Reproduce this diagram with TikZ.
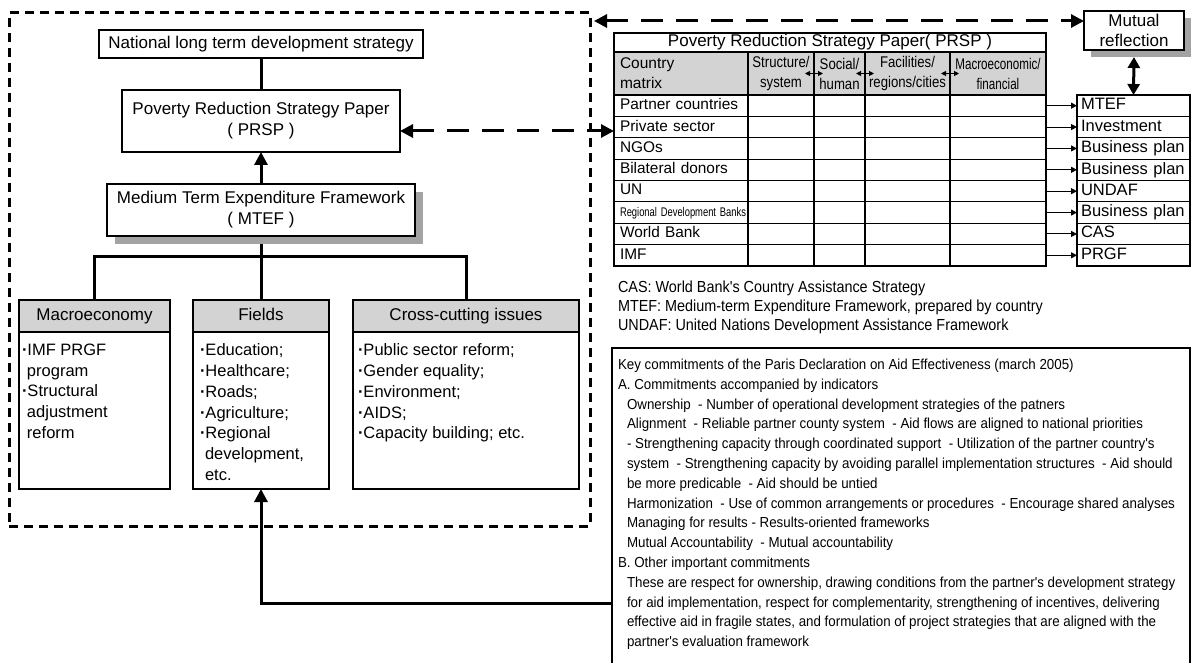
\documentclass[tikz,border=0pt]{standalone}
\usepackage{graphicx}
\usepackage{fontspec}
\setmainfont{Liberation Sans}
\newfontfamily\keyfont[FakeStretch=0.92]{Liberation Sans}
\newfontfamily\notefont[FakeStretch=0.9]{Liberation Sans}
\newfontfamily\colfont[FakeStretch=0.85]{Liberation Sans}
\newfontfamily\macfont[FakeStretch=0.75]{Liberation Sans}
\usetikzlibrary{arrows.meta,calc,shadows}

\definecolor{headfill}{HTML}{D3D3D3}
\definecolor{shadefill}{HTML}{A3A3A3}

\newcommand{\ind}{\hspace*{9pt}}
\newcommand{\cont}{\hspace*{5pt}}
\newcommand{\bul}{{\bfseries ·}}
\newcommand{\hs}{\vphantom{Mgy}}
\newcommand{\rdb}[1]{\scalebox{0.75}[1]{\fontsize{12.5}{14}\selectfont #1}}

\begin{document}
\begin{tikzpicture}[x=1pt,y=-1pt,
  every node/.style={inner sep=0pt, outer sep=0pt},
  box/.style={draw, line width=1.3pt, fill=white, align=center, font=\fontsize{17}{21}\selectfont},
  shaded/.style={drop shadow={shadow xshift=#1, shadow yshift=-#1, fill=shadefill, opacity=1}},
  headbox/.style={box, fill=headfill},
  items/.style={align=left, anchor=north west, font=\fontsize{16.5}{20.7}\selectfont},
  cell/.style={draw, line width=1.2pt, minimum height=21.375pt, anchor=west, font=\fontsize{15.4}{19}\selectfont},
  outcell/.style={cell, font=\fontsize{16.5}{19}\selectfont},
  headcell/.style={draw, line width=1.2pt, fill=headfill, minimum height=43pt, anchor=north west, align=center, font=\fontsize{15.5}{20}\selectfont},
  colhead/.style={headcell, font=\colfont\fontsize{15.5}{20}\selectfont},
  machead/.style={headcell, font=\macfont\fontsize{15.5}{20}\selectfont},
  link/.style={line width=3pt},
  tip/.style={-{Triangle[length=13pt,width=13pt]}},
  dashlink/.style={line width=3pt, dash pattern=on 22pt off 13pt, {Triangle[length=13pt,width=13pt]}-{Triangle[length=13pt,width=13pt]}},
  rowlink/.style={line width=1.1pt, -{Triangle[length=6pt,width=6pt]}},
  pairlink/.style={line width=1pt, {Triangle[length=5pt,width=5pt]}-{Triangle[length=5pt,width=5pt]}},
]
\fill[white] (0,0) rectangle (1192,663);
\useasboundingbox (0,0) rectangle (1192,663);

% dashed frame around the national planning side
\node[draw, line width=3pt, dash pattern=on 9pt off 6pt, minimum width=581pt, minimum height=513pt, anchor=north west] (zone) at (9,13) {};

% national planning chain
\node[box, minimum width=324pt, minimum height=28pt] (nat) at (261,44) {National long term development strategy};
\node[box, minimum width=278pt, minimum height=62pt] (prsp) at (261,121) {Poverty Reduction Strategy Paper\\( PRSP )};
\node[box, shaded=8pt, minimum width=308pt, minimum height=52pt] (mtef) at (261,210) {Medium Term Expenditure Framework\\( MTEF )};

% three pillars
\node[headbox, minimum width=151pt, minimum height=32pt] (mach) at (94.5,316) {Macroeconomy\hs};
\node[box, minimum width=151pt, minimum height=157pt, anchor=north] (macb) at (mach.south) {};
\node[items] (mact) at ($(macb.north west)+(3,12)$) {\bul IMF PRGF\\\cont program\\\bul Structural\\\cont adjustment\\\cont reform};

\node[headbox, minimum width=136pt, minimum height=32pt] (fldh) at (261,316) {Fields\hs};
\node[box, minimum width=136pt, minimum height=157pt, anchor=north] (fldb) at (fldh.south) {};
\node[items] (fldt) at ($(fldb.north west)+(7,12)$) {\bul Education;\\\bul Healthcare;\\\bul Roads;\\\bul Agriculture;\\\bul Regional\\\cont development,\\\cont etc.};

\node[headbox, minimum width=226pt, minimum height=32pt] (crh) at (466,316) {Cross-cutting issues\hs};
\node[box, minimum width=226pt, minimum height=157pt, anchor=north] (crb) at (crh.south) {};
\node[items] (crt) at ($(crb.north west)+(5,12)$) {\bul Public sector reform;\\\bul Gender equality;\\\bul Environment;\\\bul AIDS;\\\bul Capacity building; etc.};

% country matrix
\node[draw, line width=1.2pt, minimum width=432pt, minimum height=19pt, anchor=north west, font=\fontsize{17}{19}\selectfont] (ttl) at (614,33) {Poverty Reduction Strategy Paper( PRSP )};
\node[headcell, text width=122pt, inner xsep=6pt, align=left] (h0) at (614,52) {Country\\matrix};
\node[colhead, text width=66pt] (h1) at (h0.north east) {Structure/\\system};
\node[colhead, text width=51pt] (h2) at (h1.north east) {Social/\\human};
\node[colhead, text width=85pt] (h3) at (h2.north east) {Facilities/\\regions/cities};
\node[machead, text width=96pt] (h4) at (h3.north east) {Macroeconomic/\\financial};
\foreach \h in {h1,h2,h3}
  \draw[pairlink] ($(\h.east)+(-9,0)$) -- ($(\h.east)+(9,0)$);

\foreach \i/\lab/\out in {0/Partner countries/MTEF, 1/Private sector/Investment, 2/NGOs/Business plan,
    3/Bilateral donors/Business plan, 4/UN/UNDAF, 5/\rdb{Regional Development Banks}/Business plan,
    6/World Bank/CAS, 7/IMF/PRGF}{
  \pgfmathsetmacro\yc{95+21.375*(\i+0.5)}
  \node[cell, text width=122pt, inner xsep=6pt, align=left] (r\i) at (614,\yc) {\lab\hs};
  \node[cell, minimum width=66pt] (ca\i) at (r\i.east) {};
  \node[cell, minimum width=51pt] (cb\i) at (ca\i.east) {};
  \node[cell, minimum width=85pt] (cc\i) at (cb\i.east) {};
  \node[cell, minimum width=96pt] (cd\i) at (cc\i.east) {};
  \node[outcell, text width=105pt, inner xsep=4pt, align=left] (o\i) at (1077,\yc) {\out\hs};
  \draw[rowlink] (cd\i.east) -- (o\i.west);
}

\node[box, shaded=7pt, minimum width=100pt, minimum height=39pt, font=\fontsize{17}{20}\selectfont] (mut) at (1134,30.5) {Mutual\\reflection};

% notes
\node[align=left, anchor=north west, font=\notefont\fontsize{16}{19}\selectfont] (notes) at (618,281)
  {CAS: World Bank's Country Assistance Strategy\\
   MTEF: Medium-term Expenditure Framework, prepared by country\\
   UNDAF: United Nations Development Assistance Framework};

% Paris Declaration box
\node[draw, line width=1.3pt, minimum width=578pt, minimum height=340pt, anchor=north west] (kbox) at (612,348) {};
\node[align=left, anchor=north west, font=\keyfont\fontsize{14.5}{19.8}\selectfont] (ktxt) at (618,359)
  {Key commitments of the Paris Declaration on Aid Effectiveness (march 2005)\\
   A. Commitments accompanied by indicators\\
   \ind Ownership~ - Number of operational development strategies of the patners\\
   \ind Alignment~ - Reliable partner county system~ - Aid flows are aligned to national priorities\\
   \ind - Strengthening capacity through coordinated support~ - Utilization of the partner country's\\
   \ind system~ - Strengthening capacity by avoiding parallel implementation structures~ - Aid should\\
   \ind be more predicable~ - Aid should be untied\\
   \ind Harmonization~ - Use of common arrangements or procedures~ - Encourage shared analyses\\
   \ind Managing for results - Results-oriented frameworks\\
   \ind Mutual Accountability~ - Mutual accountability\\
   B. Other important commitments\\
   \ind These are respect for ownership, drawing conditions from the partner's development strategy\\
   \ind for aid implementation, respect for complementarity, strengthening of incentives, delivering\\
   \ind effective aid in fragile states, and formulation of project strategies that are aligned with the\\
   \ind partner's evaluation framework};

% connectors
\coordinate (jn) at (261,257);
\draw[link] (nat.south) -- (prsp.north);
\draw[link, tip] (mtef.north) -- (prsp.south);
\draw[link] ($(mtef.south)+(0,8)$) -- (jn);
\draw[link] (mach.north) |- (jn) -| (crh.north);
\draw[link] (jn) -- (fldh.north);

\path (prsp.east) ++(0,10) coordinate (pl);
\draw[dashlink] (pl) -- (pl -| ttl.west);
\coordinate (ta) at (594,21);
\draw[dashlink] (ta) -- (ta -| mut.west);
\draw[link, {Triangle[length=11pt,width=12pt]}-{Triangle[length=11pt,width=12pt]}] ($(mut.south)+(0,7)$) -- (o0.north);

\path (kbox.north west) ++(0,255) coordinate (kin);
\draw[link, tip] (kin) -| (fldb.south);
\end{tikzpicture}
\end{document}
